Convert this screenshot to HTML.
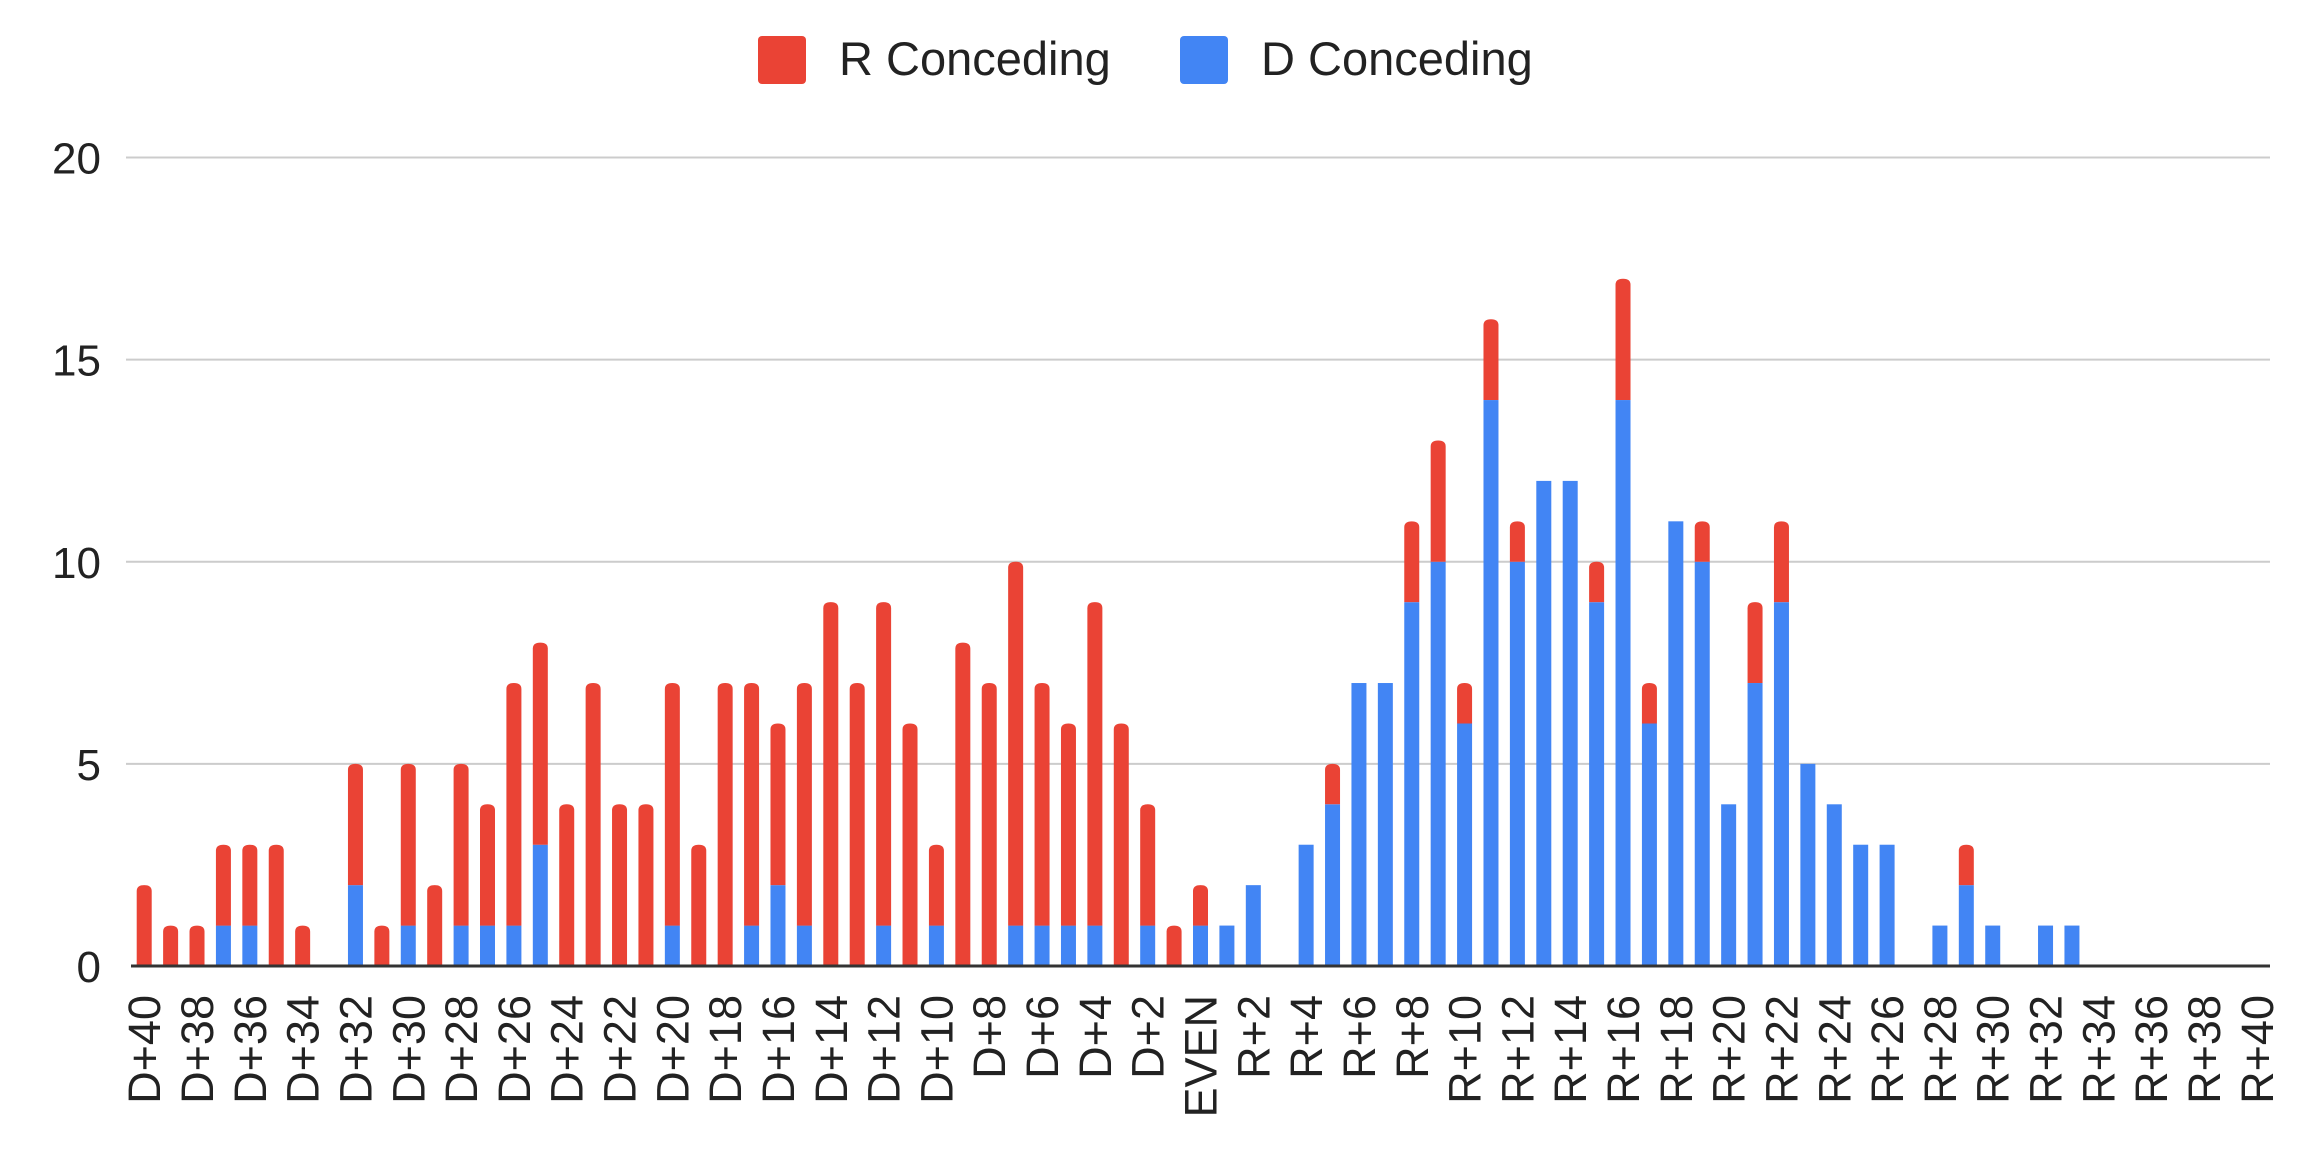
<!DOCTYPE html>
<html><head><meta charset="utf-8"><style>
html,body{margin:0;padding:0;background:#fff;}
svg{display:block;font-family:"Liberation Sans",Arial,sans-serif;}
</style></head><body>
<svg id="chart" width="2312" height="1158" viewBox="0 0 2312 1158" xmlns="http://www.w3.org/2000/svg">
<g>
<rect x="758" y="36" width="48" height="48" rx="4" fill="#EA4335"/>
<text x="839" y="75" font-size="47" fill="#222">R Conceding</text>
<rect x="1180" y="36" width="48" height="48" rx="4" fill="#4285F4"/>
<text x="1261" y="75" font-size="47" fill="#222">D Conceding</text>
</g>
<g id="grid"></g>
<g id="yticks"></g>
<g id="bars"></g>
<line x1="131" x2="2270" y1="966" y2="966" stroke="#333" stroke-width="3"/>
<g id="xlabels"></g>
</svg>
<script>
const categories = [];
for (let i = 40; i >= 1; i--) categories.push('D+' + i);
categories.push('EVEN');
for (let i = 1; i <= 40; i++) categories.push('R+' + i);
// total (R conceding stacked on top) and D conceding values, in category order
const dConceding = [0,0,0,1,1,0,0,0,2,0,1,0,1,1,1,3,0,0,0,0,1,0,0,1,2,1,0,0,1,0,1,0,0,1,1,1,1,0,1,0,
  1,
  1,2,0,3,4,7,7,9,10,6,14,10,12,12,9,14,6,11,10,4,7,9,5,4,3,3,0,1,2,1,0,1,1,0,0,0,0,0,0,0];
const rConceding = [2,1,1,2,2,3,1,0,3,1,4,2,4,3,6,5,4,7,4,4,6,3,7,6,4,6,9,7,8,6,2,8,7,9,6,5,8,6,3,1,
  1,
  0,0,0,0,1,0,0,2,3,1,2,1,0,0,1,3,1,0,1,0,2,2,0,0,0,0,0,0,1,0,0,0,0,0,0,0,0,0,0,0];
const yTicks = [0,5,10,15,20];

const NS = 'http://www.w3.org/2000/svg';
const plotL = 131, plotR = 2270, y0 = 966, y20 = 157.5;
const band = (plotR - plotL) / categories.length;
const xCenter = i => plotL + band * (i + 0.5);
const yScale = v => y0 - (y0 - y20) * v / 20;
const barW = 15;

const grid = document.getElementById('grid');
const yt = document.getElementById('yticks');
yTicks.forEach(t => {
  if (t > 0) {
    const l = document.createElementNS(NS, 'line');
    
    
    l.setAttribute('x1', plotL - 5); l.setAttribute('x2', plotR);
    l.setAttribute('y1', yScale(t)); l.setAttribute('y2', yScale(t));
    l.setAttribute('stroke', '#ccc'); l.setAttribute('stroke-width', '2');
    grid.appendChild(l);
  }
  const tx = document.createElementNS(NS, 'text');
  
  
  tx.setAttribute('x', 101); tx.setAttribute('y', yScale(t) + 16);
  tx.setAttribute('text-anchor', 'end'); tx.setAttribute('font-size', '44'); tx.setAttribute('fill', '#222');
  tx.textContent = t;
  yt.appendChild(tx);
});

const bars = document.getElementById('bars');
categories.forEach((c, i) => {
  const d = dConceding[i], r = rConceding[i];
  const x = xCenter(i) - barW / 2;
  if (d > 0) {
    const b = document.createElementNS(NS, 'rect');
    
    
    b.setAttribute('x', x); b.setAttribute('width', barW);
    b.setAttribute('y', yScale(d)); b.setAttribute('height', y0 - yScale(d));
    b.setAttribute('fill', '#4285F4');
    bars.appendChild(b);
  }
  if (r > 0) {
    const top = yScale(d + r), bot = yScale(d), rad = 6;
    const p = document.createElementNS(NS, 'path');
    
    
    p.setAttribute('d', `M${x},${bot} L${x},${top + rad} Q${x},${top} ${x + barW / 2},${top} Q${x + barW},${top} ${x + barW},${top + rad} L${x + barW},${bot} Z`);
    p.setAttribute('fill', '#EA4335');
    bars.appendChild(p);
  }
});

const xl = document.getElementById('xlabels');
categories.forEach((c, i) => {
  if (i % 2 !== 0) return;
  const cx = xCenter(i) + 16;
  const t = document.createElementNS(NS, 'text');
  
  
  t.setAttribute('x', cx); t.setAttribute('y', 995);
  t.setAttribute('text-anchor', 'end'); t.setAttribute('font-size', '45'); t.setAttribute('fill', '#222');
  t.setAttribute('transform', `rotate(-90 ${cx} 995)`);
  t.textContent = c;
  xl.appendChild(t);
});
</script>
</body></html>
